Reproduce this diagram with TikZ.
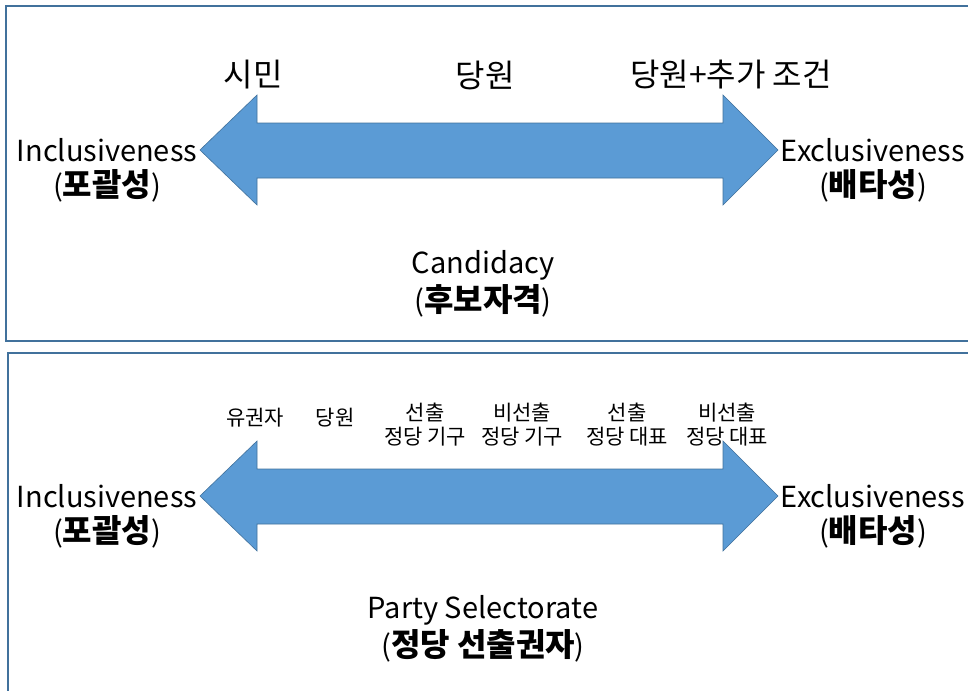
\documentclass[tikz,border=0pt]{standalone}
\usepackage{fontspec}
\setmainfont{Noto Sans CJK KR}
\definecolor{frame}{HTML}{41719C}
\definecolor{arrowfill}{HTML}{5B9BD5}
\newcommand\kobig[1]{{\fontsize{32}{36}\selectfont #1}}
\begin{document}
\begin{tikzpicture}[x=1pt,y=-1pt,
  panel/.style={draw=frame,line width=1.2pt},
  bigarrow/.style={fill=arrowfill,draw=frame,line width=0.6pt},
  big/.style={font=\fontsize{29}{34}\selectfont,align=center,inner sep=0pt},
  small/.style={font=\fontsize{21}{24}\selectfont,align=center,inner sep=0pt}]
\useasboundingbox (0,0) rectangle (968,690);
\draw[panel] (6,6) rectangle (985,341);
\draw[panel] (8,353) rectangle (985,710);
% top arrow
\draw[bigarrow] (200,150) -- (257,95) -- (257,123) -- (723,123) -- (723,95) -- (778,150)
  -- (723,205) -- (723,178) -- (257,178) -- (257,205) -- cycle;
% bottom arrow
\draw[bigarrow] (200,496) -- (257,441) -- (257,469) -- (723,469) -- (723,441) -- (778,496)
  -- (723,551) -- (723,524) -- (257,524) -- (257,551) -- cycle;
% top texts
\node[big] (t1) at (253,75) {\kobig{시민}};
\node[big] (t2) at (485,75) {\kobig{당원}};
\node[big] (t3) at (731,75) {\kobig{당원+추가 조건}};
\node[big] (incl1) at (107,150) {Inclusiveness};
\node[big] (incl1k) at (107,186) {(\kobig{\textbf{포괄성}})};
\node[big] (excl1) at (873,150) {Exclusiveness};
\node[big] (excl1k) at (873,186) {(\kobig{\textbf{배타성}})};
\node[big] (cand) at (483,265) {Candidacy};
\node[big] (candk) at (483,301) {(\kobig{\textbf{후보자격}})};
% bottom texts
\node[small] (b1) at (255,418) {유권자};
\node[small] (b2) at (335,418) {당원};
\node[small] (b3) at (425,425) {선출\\정당 기구};
\node[small] (b4) at (522,425) {비선출\\정당 기구};
\node[small] (b5) at (627,425) {선출\\정당 대표};
\node[small] (b6) at (727,425) {비선출\\정당 대표};
\node[big] (incl2) at (107,496) {Inclusiveness};
\node[big] (incl2k) at (107,532) {(\kobig{\textbf{포괄성}})};
\node[big] (excl2) at (873,496) {Exclusiveness};
\node[big] (excl2k) at (873,532) {(\kobig{\textbf{배타성}})};
\node[big] (sel) at (483,610) {Party Selectorate};
\node[big] (selk) at (483,646) {(\kobig{\textbf{정당 선출권자}})};
\end{tikzpicture}
\end{document}
